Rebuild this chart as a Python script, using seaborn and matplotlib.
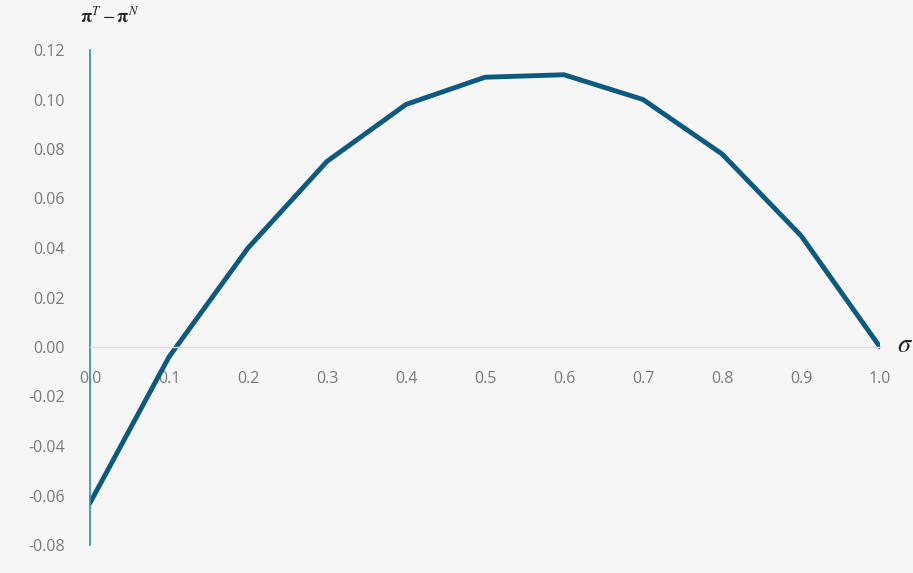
import pandas as pd
import seaborn as sns
import matplotlib.pyplot as plt

# values
sigma = [0.0, 0.1, 0.2, 0.3, 0.4, 0.5, 0.6, 0.7, 0.8, 0.9, 1.0]
diff = [-0.063, -0.004, 0.040, 0.075, 0.098, 0.109, 0.110, 0.100, 0.078, 0.045, 0.0]
y_ticks = [-0.08, -0.06, -0.04, -0.02, 0.00, 0.02, 0.04, 0.06, 0.08, 0.10, 0.12]
x_ticks = [0.0, 0.1, 0.2, 0.3, 0.4, 0.5, 0.6, 0.7, 0.8, 0.9, 1.0]

df = pd.DataFrame({"sigma": sigma, "diff": diff})

sns.set_style("white")
plt.rcParams['font.family'] = ['Open Sans', 'DejaVu Sans']
plt.rcParams['mathtext.fontset'] = 'stix'

bg = "#f6f6f6"
fig = plt.figure(figsize=(9.13, 5.73), dpi=100, facecolor=bg)
ax = fig.add_axes([90 / 913, 28 / 573, 790 / 913, 495 / 573], facecolor=bg)

sns.lineplot(data=df, x="sigma", y="diff", ax=ax, color="#0c5a7e", linewidth=3.5)

ax.set_xlim(0, 1.0)
ax.set_ylim(-0.08, 0.12)
ax.set_yticks(y_ticks)
ax.set_yticklabels([f"{v:.2f}" for v in y_ticks])
ax.set_xticks(x_ticks)
ax.set_xticklabels([f"{v:.1f}" for v in x_ticks])

for s in ["top", "right"]:
    ax.spines[s].set_visible(False)
ax.spines["left"].set_color("#2a8fa8")
ax.spines["left"].set_linewidth(1.2)
ax.spines["bottom"].set_position(("data", 0))
ax.spines["bottom"].set_color("#dcdcdc")
ax.spines["bottom"].set_linewidth(1.0)

ax.tick_params(axis="both", length=0, labelsize=11.5, labelcolor="#7a7a7a")
ax.tick_params(axis="x", pad=17)
ax.tick_params(axis="y", pad=18)

ax.set_xlabel("")
ax.set_ylabel("")
fig.text(110 / 913, 1 - 16 / 573, r"$\mathbf{\pi}^{T}-\mathbf{\pi}^{N}$", ha="center", va="center",
         fontsize=13, color="#222222")
fig.text(905 / 913, 1 - 346 / 573, r"$\sigma$", ha="center", va="center",
         fontsize=19, color="#222222")

plt.savefig("out.png", dpi=100, facecolor=bg)
